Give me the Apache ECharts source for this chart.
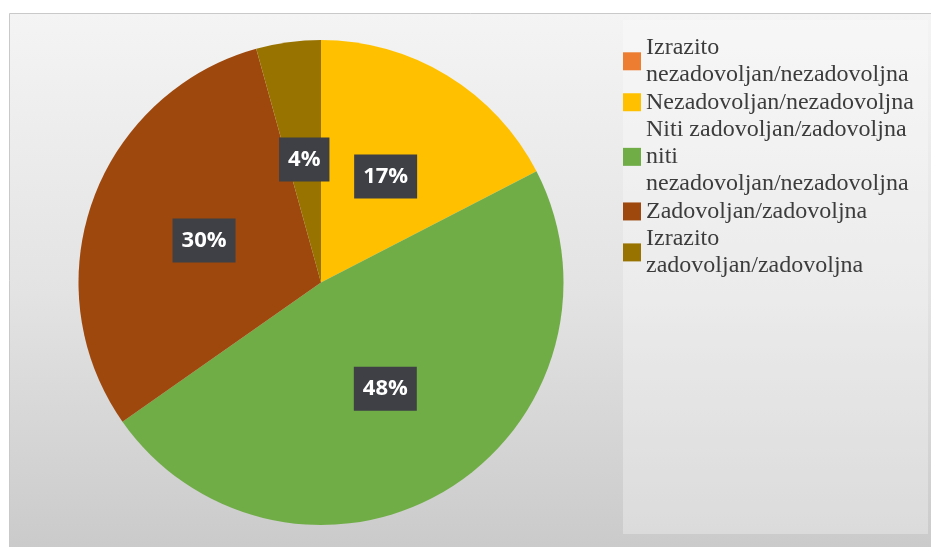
<!DOCTYPE html>
<html>
<head>
<meta charset="utf-8">
<script src="https://cdn.jsdelivr.net/npm/echarts@6/dist/echarts.min.js"></script>
<style>
html,body{margin:0;padding:0;background:#ffffff;}
#chart{width:931px;height:547px;}
</style>
</head>
<body>
<div id="chart"></div>
<script>
// Data (percent of respondents)
const categories = [
  'Izrazito\nnezadovoljan/nezadovoljna',
  'Nezadovoljan/nezadovoljna',
  'Niti zadovoljan/zadovoljna\nniti\nnezadovoljan/nezadovoljna',
  'Zadovoljan/zadovoljna',
  'Izrazito\nzadovoljan/zadovoljna'
];
const values = [0, 17.4, 47.8, 30.4, 4.3];
const colors = ['#ED7D31', '#FFC000', '#70AD47', '#9E480E', '#997300'];

const chart = echarts.init(document.getElementById('chart'), null, {renderer: 'canvas'});

const pieData = categories.map((name, i) => ({
  name: name,
  value: values[i],
  itemStyle: {color: colors[i]},
  label: {show: values[i] > 0}
}));

chart.setOption({
  animation: false,
  graphic: [
    {
      type: 'rect',
      z: -10,
      silent: true,
      shape: {x: 9.5, y: 13.5, width: 940, height: 560},
      style: {
        fill: {
          type: 'linear', x: 0, y: 0, x2: 0, y2: 1,
          colorStops: [
            {offset: 0, color: '#f4f4f4'},
            {offset: 0.5, color: '#e3e3e3'},
            {offset: 1, color: '#c8c8c8'}
          ]
        },
        stroke: '#c9c9c9',
        lineWidth: 1
      }
    },
    {
      type: 'rect',
      z: -9,
      silent: true,
      shape: {x: 623, y: 20, width: 305, height: 514},
      style: {fill: 'rgba(255,255,255,0.3)'}
    }
  ],
  legend: {
    orient: 'vertical',
    left: 623,
    top: 34,
    padding: 0,
    itemGap: 0,
    itemWidth: 18,
    itemHeight: 18,
    icon: 'rect',
    selectedMode: false,
    data: categories,
    textStyle: {
      fontFamily: '"Liberation Serif", "Times New Roman", serif',
      fontSize: 24,
      lineHeight: 27.3,
      color: '#3c3c3c'
    }
  },
  series: [{
    type: 'pie',
    center: [321, 282.5],
    radius: 242.5,
    startAngle: 90,
    clockwise: true,
    avoidLabelOverlap: false,
    labelLine: {show: false},
    emphasis: {disabled: true},
    label: {
      position: 'inside',
      formatter: p => Math.round(p.percent) + '%',
      fontFamily: '"Open Sans", "Liberation Sans", sans-serif',
      fontWeight: 'bold',
      fontSize: 22,
      lineHeight: 22,
      color: '#ffffff',
      backgroundColor: '#3e4045',
      padding: [11, 9, 11, 9]
    },
    data: pieData
  }]
});
</script>
</body>
</html>
